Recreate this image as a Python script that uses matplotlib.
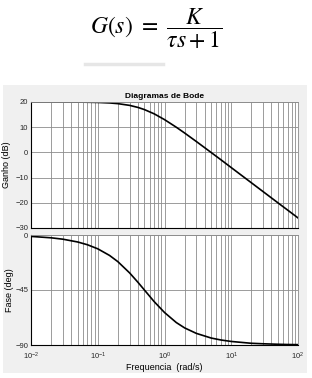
import matplotlib
matplotlib.use("Agg")
import matplotlib.pyplot as plt
from matplotlib.patches import Rectangle
from matplotlib.lines import Line2D

# frequencies (rad/s) and values
freq = [0.01, 0.02, 0.03, 0.05, 0.07, 0.1, 0.15, 0.2, 0.3, 0.4, 0.5, 0.7,
        1, 1.5, 2, 3, 5, 7, 10, 20, 30, 50, 70, 100]
gain_db = [20.0, 20.0, 19.98, 19.96, 19.91, 19.83, 19.63, 19.35, 18.66, 17.85,
           16.99, 15.31, 13.01, 10.0, 7.7, 4.32, -0.04, -2.92, -6.03, -12.04,
           -15.56, -20.0, -22.9, -26.0]
phase_deg = [-1.15, -2.29, -3.43, -5.71, -7.97, -11.3, -16.7, -21.8, -31.0,
             -38.7, -45.0, -54.5, -63.4, -71.6, -76.0, -80.5, -84.3, -85.9,
             -87.1, -88.6, -89.0, -89.4, -89.6, -89.7]

gain_ticks = [20, 10, 0, -10, -20, -30]
phase_ticks = [0, -45, -90]

plt.rcParams['font.family'] = ['Liberation Sans', 'DejaVu Sans']
plt.rcParams['mathtext.fontset'] = 'stix'

fig = plt.figure(figsize=(3.12, 3.78), dpi=100)
fig.patch.set_facecolor('white')

# grey figure panel like the MATLAB window
fig.patches.append(Rectangle((3 / 312, 1 - 373 / 378), 304 / 312, 288 / 378,
                             transform=fig.transFigure, facecolor='#f0f0f0',
                             edgecolor='none', zorder=-5))
# equation and the grey bar under it
fig.text(0.5, 0.925, r'$G(s)\ =\ \dfrac{K}{\tau s + 1}$', ha='center',
         va='center', fontsize=17)
fig.lines.append(Line2D([85 / 312, 163 / 312], [1 - 64 / 378, 1 - 64 / 378],
                        transform=fig.transFigure, color='#e6e6e6', lw=2.5))

ax1 = fig.add_axes([31 / 312, 1 - 228 / 378, 267 / 312, 126 / 378])
ax2 = fig.add_axes([31 / 312, 1 - 345 / 378, 267 / 312, 110 / 378])

ax1.semilogx(freq, gain_db, color='black', lw=1.2)
ax2.semilogx(freq, phase_deg, color='black', lw=1.2)

for ax in (ax1, ax2):
    ax.set_facecolor('white')
    ax.set_xlim(1e-2, 1e2)
    ax.grid(True, which='both', axis='x', color='#8c8c8c', lw=0.6)
    ax.grid(True, which='major', axis='y', color='#8c8c8c', lw=0.6)
    ax.tick_params(labelsize=5.5, length=0, which='both', pad=2,
                   colors='#262626')
    ax.tick_params(axis='x', pad=4)
    for side in ('top', 'right'):
        ax.spines[side].set_color('#8c8c8c')
        ax.spines[side].set_linewidth(0.6)
    for side in ('left', 'bottom'):
        ax.spines[side].set_color('black')
        ax.spines[side].set_linewidth(0.8)

ax1.set_ylim(-30, 20)
ax1.set_yticks(gain_ticks)
ax1.tick_params(labelbottom=False)
ax1.set_ylabel('Ganho (dB)', fontsize=6.5, labelpad=3)
ax1.set_title('Diagramas de Bode', fontsize=6, fontweight='bold', pad=3)

ax2.set_ylim(-90, 0)
ax2.set_yticks(phase_ticks)
ax2.set_ylabel('Fase (deg)', fontsize=6.5, labelpad=1)
ax2.set_xlabel('Frequencia  (rad/s)', fontsize=6.5, labelpad=1)

fig.savefig('out.png', dpi=100)
